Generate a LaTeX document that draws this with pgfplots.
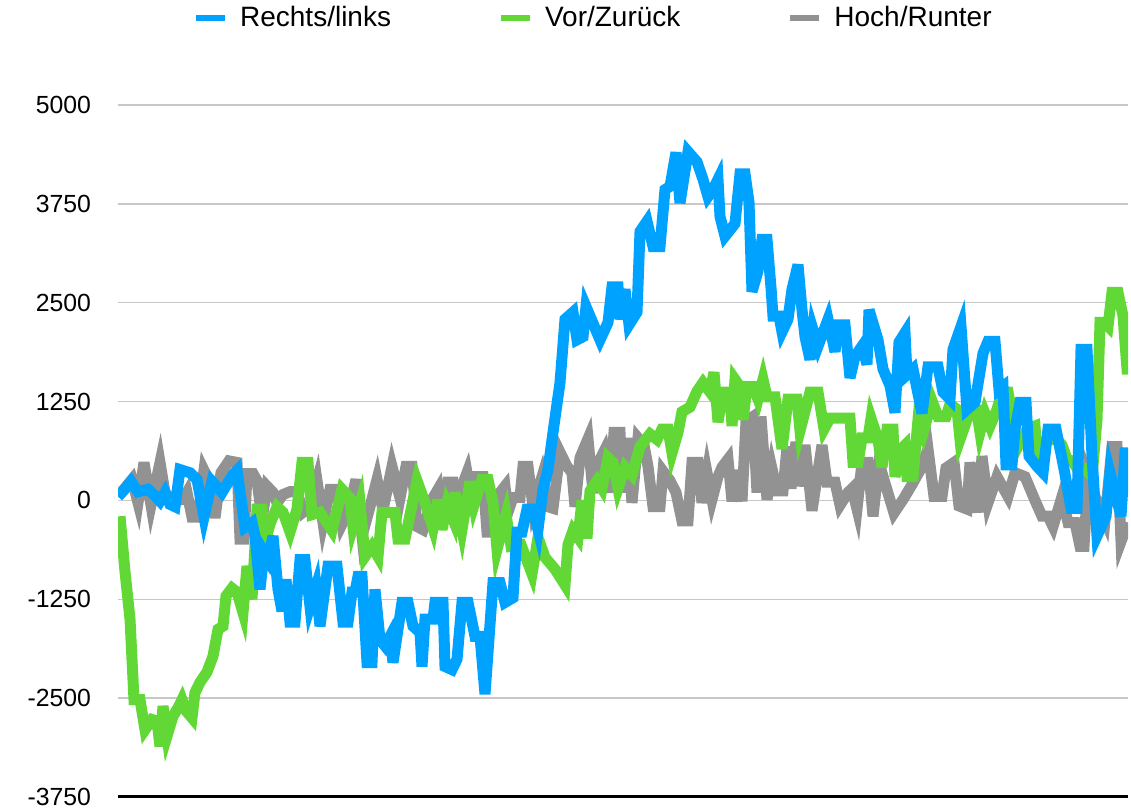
\documentclass[border=0pt]{standalone}
\usepackage{fontspec}
\setmainfont{Liberation Sans}
\usepackage{pgfplots}
\pgfplotsset{compat=1.18}
\usepackage{pgfplotstable}
\definecolor{cblue}{RGB}{0,162,255}
\definecolor{cgreen}{RGB}{97,216,54}
\definecolor{cgray}{RGB}{146,146,146}
\definecolor{cgrid}{RGB}{200,200,200}

\pgfplotstableread{
x y
118 50
124 130
131 240
138 110
148 140
155 60
160 -10
165 100
170 -50
175 -80
180 390
190 350
197 265
204 -210
212 240
222 100
233 330
237 380
245 -340
252 -280
255 -450
260 -1125
264 -660
268 -750
273 -450
278 -1125
282 -1400
286 -1000
290 -1540
295 -1540
300 -750
305 -750
310 -1340
316 -1090
320 -1590
328 -830
337 -830
343 -1540
348 -1540
352 -1160
355 -1160
358 -960
362 -960
367 -2050
372 -2050
375 -1125
380 -1760
385 -1840
390 -1720
393 -2050
402 -1290
408 -1290
413 -1590
420 -1670
422 -2100
425 -1500
433 -1500
435 -1290
443 -1290
445 -2100
452 -2140
457 -2010
462 -1290
468 -1290
475 -1720
480 -1720
485 -2450
493 -1040
500 -1040
505 -1290
513 -1230
517 -400
522 -400
527 -110
533 -110
538 -370
543 140
548 390
553 860
560 1490
565 2290
573 2380
577 2030
583 2070
586 2450
600 2030
608 2250
612 2700
618 2700
620 2290
625 2670
629 2220
637 2380
640 3400
647 3530
653 3210
660 3210
665 3930
670 3970
676 4400
680 3760
688 4410
697 4280
703 4060
708 3840
713 3930
718 4060
720 3590
725 3340
735 3500
740 4130
745 4130
749 3770
752 2640
758 2900
762 3300
767 3300
771 2690
773 2330
779 2330
782 2130
788 2290
792 2670
798 2980
802 2410
805 2070
810 1780
813 2160
818 1950
828 2290
835 1880
838 2220
845 2220
850 1550
855 1820
862 1950
867 1720
869 2410
878 2030
883 1660
890 1450
895 1110
899 2000
905 2120
907 1590
913 1660
922 1100
928 1690
938 1690
943 1370
950 1280
953 1910
961 2200
967 1150
975 1240
983 1860
988 2010
995 2010
999 1400
1003 1440
1006 450
1012 450
1015 900
1020 1240
1026 1240
1029 560
1037 430
1043 350
1048 900
1056 900
1064 400
1071 -100
1077 -100
1081 1910
1087 1910
1092 560
1097 -450
1106 -200
1110 350
1121 -200
1125 600
1130 600
}\tblue

\pgfplotstableread{
x y
120 -200
125 -900
130 -1500
134 -2520
140 -2520
145 -2900
152 -2770
157 -2790
160 -3110
163 -2600
167 -2980
173 -2730
179 -2600
182 -2520
186 -2660
192 -2750
195 -2430
200 -2300
207 -2170
213 -1970
218 -1630
223 -1590
226 -1210
232 -1110
237 -1160
243 -1420
247 -830
252 -1250
257 -110
262 -110
265 -530
270 -300
277 -80
283 -150
290 -400
297 -110
302 480
308 480
312 -180
320 -150
332 -380
342 140
350 30
353 -330
360 -30
365 -710
372 -580
378 -710
382 -150
395 -150
398 -490
405 -490
417 250
425 -30
433 -350
438 10
442 -370
447 -50
453 -240
455 100
462 -370
470 240
474 -60
482 265
488 265
493 -30
497 -620
506 -180
511 -580
521 -560
532 -930
538 -470
545 -720
555 -870
565 -1070
568 -560
573 -380
578 -470
582 0
587 -480
590 120
597 250
602 150
608 540
613 480
618 150
625 420
632 320
640 680
650 840
657 770
662 900
668 900
672 600
678 860
682 1120
690 1180
697 1380
703 1490
710 1370
714 1620
718 990
723 1370
730 1370
732 940
735 1530
740 1440
743 1020
747 1440
753 1440
758 1280
763 1530
767 1310
775 1310
782 650
788 1280
797 1280
800 880
810 1370
818 1370
824 900
830 1040
837 1040
850 1040
853 480
858 480
862 790
868 790
871 1040
878 770
882 420
887 900
893 900
895 300
901 650
905 700
907 300
913 300
918 1020
923 850
932 1260
938 1060
946 1060
950 1220
957 1150
960 770
968 1060
977 1110
980 860
985 1100
990 940
997 1150
1002 1370
1008 1370
1012 1110
1015 610
1020 730
1027 900
1035 940
1037 610
1043 730
1048 770
1057 770
1062 700
1067 520
1072 500
1078 390
1085 400
1092 300
1097 1020
1100 2250
1104 2250
1108 2200
1112 2630
1118 2630
1123 2330
1127 1660
1130 1660
}\tgreen

\pgfplotstableread{
x y
118 50
132 265
138 -30
144 480
151 -60
160 480
165 100
172 10
183 10
187 100
192 -210
198 -210
204 380
209 250
215 -220
221 350
229 500
237 480
240 -490
244 -490
247 340
253 340
257 250
262 -240
267 180
273 100
277 -30
283 75
290 110
297 110
303 -150
310 -80
317 250
323 -280
330 140
337 140
342 -300
349 -120
356 265
362 -450
370 -80
377 265
383 -120
392 430
400 30
406 430
412 430
417 -330
423 -370
432 10
438 140
442 -330
448 230
453 230
458 -370
462 180
467 350
473 -80
477 300
483 300
487 -400
495 -400
500 100
505 180
508 -150
513 40
520 40
523 430
528 430
533 -80
542 300
548 -80
553 -100
560 610
567 430
572 350
575 -80
580 540
588 780
593 100
600 520
604 620
610 100
614 860
620 860
623 100
627 790
632 -30
638 790
644 700
648 430
653 -80
660 -80
663 370
670 250
676 100
682 -260
688 -260
692 480
698 480
702 -30
707 350
712 10
718 300
722 420
728 520
732 -10
737 380
742 -10
746 1000
753 1060
757 100
761 1060
767 10
772 400
777 120
783 120
787 680
791 150
796 740
800 180
805 700
812 -130
822 700
827 230
835 230
840 -60
848 100
852 150
857 -110
862 480
868 480
873 -200
879 480
884 260
894 -160
904 30
912 200
920 380
928 650
934 50
942 50
946 410
954 480
959 -70
967 -110
970 480
978 -150
982 560
988 -30
997 300
1008 50
1015 350
1025 300
1035 0
1042 -200
1048 -200
1053 -330
1062 50
1068 -280
1075 -280
1080 -580
1084 -580
1088 300
1095 50
1105 -250
1112 680
1117 680
1121 -520
1128 -280
}\tgray

\begin{document}
\begin{tikzpicture}
\useasboundingbox (0pt,0pt) rectangle (565.5pt,406pt);
\begin{axis}[
  at={(59pt,7.5pt)}, anchor=south west,
  scale only axis, width=505pt, height=346pt,
  xmin=118, xmax=1128, ymin=-3750, ymax=5000,
  xtick=\empty,
  ytick={-3750,-2500,-1250,0,1250,2500,3750,5000},
  yticklabels={-3750,-2500,-1250,0,1250,2500,3750,5000},
  ymajorgrids, grid style={cgrid, line width=0.75pt},
  axis x line*=bottom, axis y line*=left,
  x axis line style={black, line width=1.5pt, -},
  y axis line style={draw=none},
  major tick length=0pt,
  yticklabel style={font=\fontsize{12.4}{14}\selectfont, anchor=east, xshift=-10pt},
  legend columns=3, reverse legend,
  legend style={draw=none, fill=none, at={(axis description cs:0.074,1.1257)}, anchor=west,
    inner sep=0pt, font=\fontsize{14}{16}\selectfont,
    /tikz/every odd column/.style={column sep=4pt},
    /tikz/every even column/.style={column sep=51.5pt}},
  legend image code/.code={\draw[#1, line width=3pt] (0pt,0pt) -- (14.5pt,0pt);},
]
\addplot[cgray, line width=5.5pt, line join=miter, miter limit=6] table[x=x,y=y] {\tgray};
\addlegendentry{Hoch/Runter}
\addplot[cgreen, line width=5.5pt, line join=miter, miter limit=6] table[x=x,y=y] {\tgreen};
\addlegendentry{Vor/Zurück}
\addplot[cblue, line width=5.5pt, line join=miter, miter limit=6] table[x=x,y=y] {\tblue};
\addlegendentry{Rechts/links}
\end{axis}
\end{tikzpicture}
\end{document}
